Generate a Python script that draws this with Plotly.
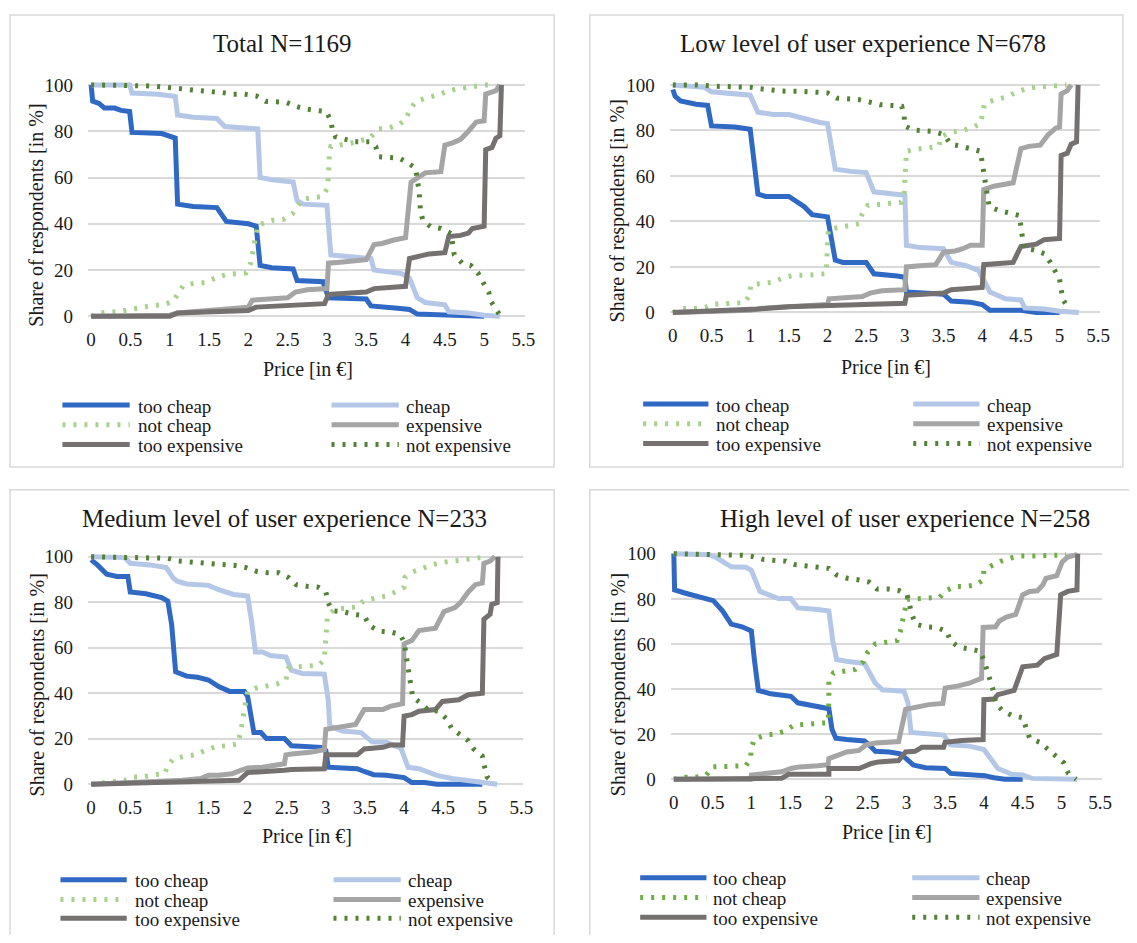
import plotly.graph_objects as go

# page geometry (the page body adds an 8 px margin around the figure)
OFF = 8
FW, FH = 1121, 927
FONT = "Liberation Serif, serif"
TXT = "#1a1a1a"

SERIES = ["too cheap", "cheap", "not cheap", "expensive", "too expensive", "not expensive"]
X_TICKS = [0, 0.5, 1, 1.5, 2, 2.5, 3, 3.5, 4, 4.5, 5, 5.5]
X_TICK_TEXT = ["0", "0.5", "1", "1.5", "2", "2.5", "3", "3.5", "4", "4.5", "5", "5.5"]
Y_TICKS = [0, 20, 40, 60, 80, 100]
Y_TICK_TEXT = ["0", "20", "40", "60", "80", "100"]
TITLES = ["Total N=1169", "Low level of user experience N=678",
          "Medium level of user experience N=233", "High level of user experience N=258"]
X_TITLE = "Price [in €]"
Y_TITLE = "Share of respondents [in %]"

# ---------------- Total N=1169 ----------------
total_too_cheap_x = [0, 0.02, 0.1, 0.17, 0.3, 0.38, 0.49, 0.52, 0.9, 1.07, 1.1, 1.3, 1.6, 1.72, 2.0, 2.1, 2.15, 2.3, 2.57, 2.62, 2.95, 3.02, 3.5, 3.56, 3.9, 4.05, 4.15, 4.6, 5.0]
total_too_cheap_y = [100, 93, 92, 90, 90, 89, 88.5, 79.5, 79, 77, 48.5, 47.5, 47, 41, 40, 39, 22, 21, 20.5, 15.5, 15, 8, 7.5, 4.5, 3.5, 3, 1, 0.5, 0]
total_cheap_x = [0, 0.49, 0.52, 0.85, 1.07, 1.1, 1.3, 1.6, 1.7, 2.0, 2.12, 2.15, 2.3, 2.57, 2.62, 2.7, 3.0, 3.05, 3.3, 3.56, 3.6, 3.75, 3.95, 4.05, 4.15, 4.25, 4.5, 4.55, 4.8, 5.0, 5.2]
total_cheap_y = [100, 100, 96.5, 96, 95, 87, 86, 85.5, 82, 81.5, 81, 60, 59, 58, 50, 48.5, 48, 26.5, 26, 25, 20, 19.5, 18.5, 16.5, 8, 6, 5, 2, 1.5, 0.5, 0]
total_not_cheap_x = [0, 0.13, 0.36, 0.49, 0.64, 0.78, 0.93, 1.04, 1.17, 1.31, 1.46, 1.57, 1.72, 1.97, 2.03, 2.1, 2.12, 2.31, 2.44, 2.56, 2.69, 2.94, 3.0, 3.02, 3.03, 3.05, 3.16, 3.3, 3.54, 3.66, 3.79, 3.92, 4.0, 4.06, 4.13, 4.28, 4.43, 4.55, 4.68, 4.81, 4.98, 5.15]
total_not_cheap_y = [0, 1.6, 2.1, 3, 3.8, 4.7, 5.1, 6.4, 13.2, 14.3, 14.6, 16.4, 18.1, 18.8, 23, 36, 39.4, 41.5, 41.8, 44.3, 50.7, 51.8, 55, 61, 70, 73.4, 74, 74.8, 76.9, 81, 81.4, 82.9, 85.1, 89.5, 92.8, 94.6, 95.8, 97.5, 98.4, 99.1, 99.9, 100]
total_expensive_x = [0, 1.0, 1.1, 1.5, 1.7, 2.0, 2.05, 2.3, 2.5, 2.6, 2.75, 3.0, 3.02, 3.2, 3.5, 3.6, 3.7, 3.85, 4.0, 4.07, 4.15, 4.25, 4.45, 4.5, 4.6, 4.7, 4.8, 4.85, 4.9, 5.0, 5.02, 5.15, 5.2]
total_expensive_y = [0, 0.5, 1.5, 2.5, 3.5, 4, 7, 7.5, 8, 10.5, 11.5, 12, 23, 23.5, 24.5, 31, 31.5, 33, 34, 58, 60, 62, 62.5, 74, 75, 76.5, 80, 82, 84, 84.5, 96, 97.5, 100]
total_too_expensive_x = [0, 1.0, 1.1, 1.5, 1.7, 2.0, 2.1, 2.5, 2.6, 2.97, 3.02, 3.2, 3.5, 3.6, 3.85, 4.0, 4.05, 4.15, 4.3, 4.5, 4.55, 4.7, 4.8, 4.85, 5.0, 5.02, 5.1, 5.15, 5.2, 5.22]
total_too_expensive_y = [0, 0, 1.5, 2, 2.5, 2.5, 4, 4.5, 5, 5.5, 9.5, 10, 10.5, 12, 12.5, 13, 25, 26, 27, 27.5, 34.5, 35, 36, 38, 39, 72, 73, 77, 78, 100]
total_not_expensive_x = [0, 0.6, 0.7, 0.85, 0.97, 1.12, 1.25, 1.4, 1.55, 1.67, 1.8, 1.95, 2.1, 2.22, 2.35, 2.48, 2.6, 2.71, 2.86, 2.99, 3.05, 3.07, 3.11, 3.24, 3.35, 3.54, 3.62, 3.66, 3.79, 3.92, 4.03, 4.13, 4.15, 4.17, 4.19, 4.22, 4.32, 4.45, 4.58, 4.6, 4.62, 4.72, 4.83, 4.92, 4.98, 5.06, 5.08, 5.2]
total_not_expensive_y = [100, 100, 99.6, 99.3, 98.9, 97.9, 97.5, 97, 97, 96.7, 96, 96, 95.3, 92.9, 92.5, 92.5, 90.8, 89.7, 89, 88.5, 84.7, 80.5, 77.6, 76.2, 75.5, 75.5, 73.4, 69, 68.7, 68.4, 66.3, 64, 58.5, 55, 45.8, 41.5, 38.7, 38, 35.8, 30.9, 26.6, 23, 22, 18.8, 15.3, 10.3, 6.8, 0.5]

# ---------------- Low level N=678 ----------------
low_too_cheap_x = [0, 0.03, 0.1, 0.2, 0.3, 0.45, 0.5, 0.8, 1.0, 1.1, 1.2, 1.5, 1.7, 1.8, 2.0, 2.1, 2.2, 2.5, 2.6, 2.9, 3.0, 3.02, 3.3, 3.5, 3.6, 3.85, 4.0, 4.1, 4.5, 4.7, 5.0]
low_too_cheap_y = [98, 95, 93, 92, 91.5, 91, 82, 81.5, 80.5, 52, 51, 51, 46.5, 43, 42, 23, 22, 22, 17, 16, 15.5, 9, 8.5, 8, 5, 4.5, 3.5, 1, 1, 0, 0]
low_cheap_x = [0, 0.4, 0.5, 0.9, 1.0, 1.1, 1.3, 1.5, 1.75, 1.9, 2.0, 2.1, 2.3, 2.5, 2.6, 2.8, 3.0, 3.02, 3.2, 3.5, 3.6, 3.8, 3.95, 4.1, 4.3, 4.5, 4.55, 4.8, 5.0, 5.25]
low_cheap_y = [100, 99, 97, 96, 95.5, 88, 87, 87, 84.5, 83.5, 83, 63, 62, 61.5, 53, 52.5, 51.5, 29.5, 28.5, 28, 22, 20.5, 18.5, 9, 6, 5.5, 2, 1.5, 0.5, 0]
low_not_cheap_x = [0, 0.12, 0.25, 0.42, 0.51, 0.65, 0.79, 0.93, 0.99, 1.01, 1.15, 1.3, 1.42, 1.56, 1.7, 1.85, 1.98, 1.99, 2.0, 2.01, 2.13, 2.27, 2.41, 2.45, 2.52, 2.66, 2.8, 2.95, 2.99, 3.0, 3.02, 3.16, 3.3, 3.44, 3.47, 3.59, 3.73, 3.87, 3.98, 4.0, 4.03, 4.17, 4.31, 4.42, 4.56, 4.7, 4.84, 4.98, 5.09]
low_not_cheap_y = [0, 1.7, 1.7, 2.2, 3.6, 3.9, 4, 4.3, 7.5, 12.3, 12.7, 13.3, 15.2, 16.3, 16.3, 16.6, 17, 21.9, 31.8, 36.4, 37.3, 38.3, 39, 43.4, 47, 47.4, 48, 48.4, 52, 62, 70.8, 71.8, 72.3, 73, 77.3, 79.2, 79.8, 81.2, 83.1, 88.2, 91.8, 93.5, 94.7, 96.5, 98.3, 99, 99.4, 99.7, 100]
low_expensive_x = [0, 0.5, 1.0, 1.2, 1.5, 1.8, 2.0, 2.02, 2.3, 2.45, 2.55, 2.7, 3.0, 3.02, 3.2, 3.4, 3.5, 3.65, 3.75, 3.85, 4.0, 4.02, 4.15, 4.3, 4.4, 4.5, 4.6, 4.75, 4.85, 4.95, 5.0, 5.02, 5.1, 5.15]
low_expensive_y = [0, 0.5, 1, 2, 2.5, 3, 3.5, 6, 6.5, 7, 8.5, 9.5, 10, 20, 20.5, 21, 26.5, 27, 28, 29.5, 29.5, 54, 55.5, 56.5, 57, 72, 73, 73.5, 78, 81, 81.5, 96, 97.5, 100]
low_too_expensive_x = [0, 0.5, 1.0, 1.1, 1.5, 2.0, 2.05, 2.5, 2.6, 3.0, 3.02, 3.3, 3.5, 3.6, 3.85, 4.0, 4.02, 4.2, 4.4, 4.5, 4.7, 4.8, 5.0, 5.02, 5.1, 5.15, 5.22, 5.24]
low_too_expensive_y = [0, 0.5, 1, 1.5, 2.5, 3, 3.5, 3.5, 4, 4, 7.5, 8, 8.5, 10, 10.5, 11, 21, 21.5, 22, 29, 30, 32, 32.5, 69, 70, 74, 75, 100]
low_not_expensive_x = [0, 0.3, 0.56, 0.83, 1.0, 1.13, 1.27, 1.41, 1.7, 1.85, 2.0, 2.12, 2.25, 2.4, 2.54, 2.68, 2.82, 2.96, 2.99, 3.0, 3.1, 3.24, 3.38, 3.51, 3.59, 3.73, 3.85, 3.98, 4.0, 4.02, 4.06, 4.09, 4.22, 4.35, 4.48, 4.5, 4.52, 4.54, 4.67, 4.81, 4.88, 4.94, 5.0, 5.02, 5.05, 5.12]
low_not_expensive_y = [100, 100, 99.4, 99.3, 99, 98.3, 97.6, 97.3, 97.1, 96.8, 96.5, 94.2, 93.9, 93.6, 92.5, 91.3, 91, 90.6, 86.7, 82.1, 80.2, 79.8, 79.5, 78, 74, 73, 72, 70.8, 65.8, 60.7, 51.4, 46.5, 44.8, 43.6, 42.6, 37.9, 33.2, 28.2, 27.5, 25.7, 22, 18.8, 14.7, 10.1, 5.3, 1.7]

# ---------------- Medium level N=233 ----------------
med_too_cheap_x = [0, 0.08, 0.2, 0.33, 0.47, 0.5, 0.7, 0.9, 0.98, 1.03, 1.08, 1.22, 1.36, 1.5, 1.63, 1.77, 1.96, 2.0, 2.08, 2.17, 2.24, 2.47, 2.56, 2.94, 3.0, 3.03, 3.21, 3.4, 3.49, 3.61, 3.77, 3.91, 4.0, 4.1, 4.26, 4.42, 5.0]
med_too_cheap_y = [98.6, 96.4, 92.3, 91.3, 91.3, 84.5, 83.7, 82, 80.5, 70, 49.4, 47.5, 47, 45.8, 42.9, 40.8, 40.8, 38.6, 22.7, 22.7, 20.1, 20.1, 16.9, 16.2, 14.7, 7.5, 7.1, 6.8, 5.6, 4.2, 3.9, 3.2, 2.9, 0.7, 0.7, 0, 0]
med_cheap_x = [0, 0.43, 0.5, 0.75, 0.96, 1.05, 1.1, 1.22, 1.5, 1.63, 1.82, 2.0, 2.05, 2.1, 2.19, 2.29, 2.49, 2.56, 2.7, 2.98, 3.03, 3.05, 3.21, 3.45, 3.59, 3.77, 3.96, 4.05, 4.19, 4.42, 4.61, 4.89, 5.19]
med_cheap_y = [100, 99.6, 97.1, 96.4, 95.2, 90.6, 89.2, 88, 87.4, 85.5, 83.4, 82.7, 71.8, 58.1, 58.1, 56.6, 55.9, 50.1, 48.7, 48.4, 37.1, 25.6, 23.4, 22.7, 18.6, 18.4, 15.8, 7.5, 6.8, 3.9, 2.5, 1.3, 0]
med_not_cheap_x = [0, 0.15, 0.29, 0.43, 0.52, 0.66, 0.8, 0.94, 0.98, 1.05, 1.19, 1.33, 1.45, 1.59, 1.73, 1.87, 1.91, 1.95, 1.98, 2.0, 2.1, 2.24, 2.38, 2.49, 2.52, 2.63, 2.77, 2.91, 2.98, 3.0, 3.02, 3.11, 3.25, 3.39, 3.49, 3.63, 3.77, 3.89, 4.0, 4.01, 4.1, 4.24, 4.35, 4.49, 4.63, 4.77, 4.91, 5.07]
med_not_cheap_y = [0, 0.7, 1, 1.7, 3.2, 3.2, 4.2, 4.6, 8.2, 11.1, 12.3, 12.9, 14.7, 16.5, 16.9, 17.6, 22.7, 30.6, 37.1, 40.8, 42.2, 43.2, 44.1, 45.8, 50.9, 51.6, 51.9, 52.3, 54.8, 64.6, 74, 76.9, 77.6, 77.9, 80.8, 81.9, 82.7, 84.5, 86.6, 90.9, 93.2, 94.9, 96.4, 97.5, 98.1, 99, 99.6, 100]
med_expensive_x = [0, 0.98, 1.17, 1.4, 1.5, 1.63, 1.8, 1.91, 2.0, 2.19, 2.38, 2.47, 2.49, 2.56, 2.8, 2.98, 3.0, 3.19, 3.38, 3.49, 3.73, 3.82, 3.98, 4.0, 4.1, 4.19, 4.4, 4.51, 4.65, 4.72, 4.82, 4.91, 5.0, 5.02, 5.1, 5.16]
med_expensive_y = [0, 1, 1.7, 2.5, 3.9, 3.9, 4.6, 6.1, 7.1, 7.5, 8.2, 9, 12.9, 13.3, 14, 15.2, 24.1, 25.3, 26.3, 32.8, 32.8, 34.2, 35.4, 61.7, 63.2, 67.5, 68.6, 75.9, 77.6, 79.8, 84.5, 87.7, 88.4, 97.1, 98.1, 100]
med_too_expensive_x = [0, 0.98, 1.17, 1.63, 1.89, 2.0, 2.19, 2.47, 2.56, 2.98, 3.0, 3.4, 3.49, 3.73, 3.82, 3.98, 4.0, 4.1, 4.19, 4.4, 4.49, 4.7, 4.82, 5.0, 5.02, 5.1, 5.12, 5.19, 5.2]
med_too_expensive_y = [0, 0.7, 1.3, 1.7, 1.7, 5.1, 5.3, 6.1, 6.5, 6.8, 12.9, 12.9, 15.5, 16.2, 17.2, 17.2, 29.9, 30.6, 32.1, 32.8, 36.4, 37.1, 39.3, 40, 72.5, 74.7, 79, 79.8, 100]
med_not_expensive_x = [0, 0.85, 0.98, 1.12, 1.26, 1.4, 1.54, 1.69, 1.84, 1.98, 2.12, 2.26, 2.4, 2.52, 2.62, 2.76, 2.9, 3.0, 3.03, 3.08, 3.21, 3.35, 3.49, 3.56, 3.68, 3.82, 3.95, 4.0, 4.04, 4.06, 4.09, 4.11, 4.21, 4.31, 4.44, 4.54, 4.61, 4.71, 4.82, 4.89, 5.0, 5.03, 5.06, 5.16]
med_not_expensive_y = [100, 99.3, 99.3, 98.1, 97.8, 97.5, 97.1, 96.7, 96.1, 95.2, 93.5, 92.9, 92.9, 90.9, 87.7, 87, 86.6, 84.5, 79.8, 76.2, 75.9, 74.7, 74, 69.7, 67.2, 67, 65.8, 62.4, 52.3, 47.5, 42.9, 38.3, 35.7, 32.5, 32.1, 28.8, 24.4, 22, 19.1, 15.5, 12.3, 7.5, 3.2, 0.3]

# ---------------- High level N=258 ----------------
high_too_cheap_x = [0, 0.01, 0.14, 0.28, 0.39, 0.51, 0.63, 0.74, 0.88, 1.0, 1.04, 1.09, 1.25, 1.39, 1.51, 1.6, 1.81, 1.9, 2.0, 2.04, 2.09, 2.23, 2.46, 2.55, 2.6, 2.78, 2.92, 2.99, 3.09, 3.25, 3.5, 3.57, 3.9, 4.01, 4.13, 4.27, 4.5]
high_too_cheap_y = [100, 84, 82.6, 81.1, 80.1, 79.2, 74.6, 68.8, 67.6, 65.8, 52.8, 39.4, 37.9, 37.1, 36.8, 33.9, 32.7, 31.7, 31.3, 22.2, 18.2, 17.6, 17, 14.2, 12.4, 12.1, 11.3, 9.4, 6.3, 5.1, 4.8, 2.6, 2.2, 1.6, 0.7, 0, 0]
high_cheap_x = [0, 0.46, 0.56, 0.74, 0.93, 1.0, 1.11, 1.25, 1.35, 1.51, 1.6, 1.86, 2.0, 2.05, 2.1, 2.23, 2.46, 2.6, 2.69, 2.97, 3.02, 3.06, 3.25, 3.48, 3.57, 3.81, 4.0, 4.08, 4.18, 4.36, 4.5, 4.62, 5.01, 5.2]
high_cheap_y = [100, 99.6, 98.1, 94.2, 94, 92.7, 83.3, 81.1, 80.1, 80.1, 76, 75.3, 74.6, 61.5, 53.1, 52.3, 51.3, 42.6, 39.7, 39, 33.9, 20.8, 20.1, 19.6, 15.3, 14.7, 13.2, 9.2, 4.8, 2.2, 1.9, 0.4, 0.1, 0]
high_not_cheap_x = [0, 0.14, 0.28, 0.42, 0.5, 0.65, 0.79, 0.93, 0.99, 1.0, 1.04, 1.18, 1.32, 1.44, 1.55, 1.69, 1.83, 1.99, 2.0, 2.0, 2.06, 2.2, 2.34, 2.44, 2.5, 2.6, 2.74, 2.88, 2.92, 2.95, 2.99, 3.01, 3.16, 3.3, 3.43, 3.5, 3.62, 3.76, 3.9, 3.99, 4.0, 4.11, 4.22, 4.35, 4.48, 4.62, 4.78, 4.92, 5.06]
high_not_cheap_y = [0, 0.9, 0.9, 1.9, 5.5, 5.5, 5.5, 6, 9.2, 13.8, 17.9, 19.6, 20.1, 21.5, 24, 24.4, 24.7, 25.1, 34.6, 44, 47.2, 48.1, 48.7, 52, 56.3, 60, 60.8, 61.5, 65.4, 70.2, 75.3, 79.7, 80.1, 80.4, 80.7, 83.3, 85.5, 85.5, 86.2, 88.4, 92.7, 94.9, 96.7, 98.1, 99, 99, 99, 99.3, 99.6]
high_expensive_x = [0, 0.99, 1.0, 1.21, 1.39, 1.51, 1.62, 1.86, 1.99, 2.0, 2.13, 2.23, 2.39, 2.48, 2.6, 2.78, 2.9, 2.99, 3.16, 3.29, 3.47, 3.5, 3.67, 3.81, 3.97, 3.99, 4.15, 4.2, 4.29, 4.41, 4.5, 4.59, 4.69, 4.76, 4.8, 4.94, 5.01, 5.08, 5.2, 5.21]
high_expensive_y = [0, 0, 1.9, 2.6, 3.3, 4.8, 5.5, 6, 6.5, 9.2, 10.6, 12.1, 12.8, 15.3, 16.1, 16.4, 16.7, 31, 32.1, 33.1, 33.6, 40.4, 41.4, 42.6, 44.8, 67.3, 67.6, 70.2, 71.9, 73.1, 81.8, 83.3, 83.6, 86.2, 89.1, 90.3, 96.4, 98.5, 99.6, 100]
high_too_expensive_x = [0, 1.0, 1.39, 1.48, 2.0, 2.0, 2.39, 2.55, 2.64, 2.9, 2.99, 3.11, 3.2, 3.48, 3.5, 3.71, 3.99, 4.0, 4.13, 4.18, 4.39, 4.5, 4.69, 4.78, 4.94, 4.99, 5.08, 5.2, 5.21]
high_too_expensive_y = [0, 0.4, 0.4, 2.2, 2.2, 4.8, 4.8, 7, 7.7, 8.3, 12.1, 12.4, 14.2, 14.2, 16.4, 17.2, 17.6, 35.3, 35.6, 37.5, 39.4, 49.9, 50.6, 53.5, 55.4, 81.8, 83.3, 84, 100]
high_not_expensive_x = [0, 0.7, 0.88, 1.01, 1.15, 1.29, 1.44, 1.56, 1.71, 1.86, 2.0, 2.1, 2.24, 2.39, 2.52, 2.62, 2.76, 2.91, 3.01, 3.04, 3.07, 3.12, 3.25, 3.39, 3.52, 3.57, 3.68, 3.81, 3.95, 4.0, 4.05, 4.09, 4.13, 4.15, 4.25, 4.36, 4.5, 4.55, 4.59, 4.72, 4.83, 4.93, 5.03, 5.09, 5.19]
high_not_expensive_y = [100, 99.6, 99.3, 98.8, 97.5, 97.1, 96.7, 95.2, 94.6, 94.2, 93.5, 90.6, 89.1, 88.4, 87.4, 84.4, 84.4, 83.6, 81.8, 77.5, 73.1, 68.8, 67.6, 67.3, 65.6, 61.2, 58.6, 57.8, 56.8, 52.8, 48.1, 42.9, 38.2, 33.6, 30.2, 28.3, 27.3, 23, 18.2, 16.4, 13.2, 10.2, 7.3, 2.6, 0]

PANEL_SERIES = [
    [(total_too_cheap_x, total_too_cheap_y), (total_cheap_x, total_cheap_y),
     (total_not_cheap_x, total_not_cheap_y), (total_expensive_x, total_expensive_y),
     (total_too_expensive_x, total_too_expensive_y), (total_not_expensive_x, total_not_expensive_y)],
    [(low_too_cheap_x, low_too_cheap_y), (low_cheap_x, low_cheap_y),
     (low_not_cheap_x, low_not_cheap_y), (low_expensive_x, low_expensive_y),
     (low_too_expensive_x, low_too_expensive_y), (low_not_expensive_x, low_not_expensive_y)],
    [(med_too_cheap_x, med_too_cheap_y), (med_cheap_x, med_cheap_y),
     (med_not_cheap_x, med_not_cheap_y), (med_expensive_x, med_expensive_y),
     (med_too_expensive_x, med_too_expensive_y), (med_not_expensive_x, med_not_expensive_y)],
    [(high_too_cheap_x, high_too_cheap_y), (high_cheap_x, high_cheap_y),
     (high_not_cheap_x, high_not_cheap_y), (high_expensive_x, high_expensive_y),
     (high_too_expensive_x, high_too_expensive_y), (high_not_expensive_x, high_not_expensive_y)],
]

# ---------------- styles ----------------
DOTS = "3px,8px"
STYLE = {
    "too cheap": ("#2F69C4", "solid"),
    "cheap": ("#B4C7E7", "solid"),
    "not cheap": ("#A9D18E", DOTS),
    "expensive": ("#A5A5A5", "solid"),
    "too expensive": ("#767171", "solid"),
    "not expensive": ("#538135", DOTS),
}
HIGH_NOT_CHEAP = "#70AD47"
LW = 5

# geometry of each panel in window pixels
GEOM = [
    dict(x0=90, x55=527, y0=314, y100=79, box=(8, 8, 558, 467), title=(283, 37),
         xt=(309, 367), yt=(35, 211), rows=(404, 424, 444), lcol=(61, 129, 135), rcol=(333, 401, 406)),
    dict(x0=678, x55=1108, y0=310, y100=79, box=(594, 8, 1133, 467), title=(870, 37),
         xt=(893, 365), yt=(623, 207), rows=(403, 423, 443), lcol=(648, 714, 720), rcol=(921, 988, 994)),
    dict(x0=90, x55=525, y0=789, y100=558, box=(8, 490, 558, 960), title=(285, 519),
         xt=(308, 842), yt=(36, 688), rows=(886, 906, 925), lcol=(59, 126, 132), rcol=(335, 403, 408)),
    dict(x0=679, x55=1110, y0=784, y100=555, box=(594, 490, 1150, 960), title=(913, 519),
         xt=(894, 838), yt=(623, 688), rows=(884, 904, 924), lcol=(645, 712, 717), rcol=(920, 988, 993)),
]
XR = (-0.04, 5.52)
YR = (-1.6, 101.6)

fig = go.Figure()
shapes = []
annotations = []


def fx(px):
    return (px - OFF) / FW


def fy(py):
    return 1 - (py - OFF) / FH


LEFT_COL = ["too cheap", "not cheap", "too expensive"]
RIGHT_COL = ["cheap", "expensive", "not expensive"]

for i, g in enumerate(GEOM):
    k = i + 1
    sx = (g["x55"] - g["x0"]) / 5.5
    sy = (g["y0"] - g["y100"]) / 100.0
    xd = [fx(g["x0"] + XR[0] * sx), fx(g["x0"] + XR[1] * sx)]
    yd = [fy(g["y0"] - YR[0] * sy), fy(g["y0"] - YR[1] * sy)]
    xname = "xaxis" if k == 1 else f"xaxis{k}"
    yname = "yaxis" if k == 1 else f"yaxis{k}"
    xref = "x" if k == 1 else f"x{k}"
    yref = "y" if k == 1 else f"y{k}"
    fig.update_layout(**{
        xname: dict(domain=xd, range=list(XR), anchor=yref, showgrid=False, zeroline=False,
                    showline=False, ticks="", tickmode="array", tickvals=X_TICKS,
                    ticktext=X_TICK_TEXT, ticklabelstandoff=6,
                    tickfont=dict(family=FONT, size=19, color=TXT), fixedrange=True),
        yname: dict(domain=yd, range=list(YR), anchor=xref, showgrid=True, gridcolor="#D9D9D9",
                    gridwidth=1.5, zeroline=False, showline=False, ticks="", tickmode="array",
                    tickvals=Y_TICKS, ticktext=Y_TICK_TEXT, ticklabelstandoff=14,
                    tickfont=dict(family=FONT, size=19, color=TXT), fixedrange=True),
    })
    for name, (xs, ys) in zip(SERIES, PANEL_SERIES[i]):
        color, dash = STYLE[name]
        if k == 4 and name == "not cheap":
            color = HIGH_NOT_CHEAP
        fig.add_trace(go.Scatter(x=xs, y=ys, mode="lines", name=name, showlegend=False,
                                 xaxis=xref, yaxis=yref, hoverinfo="skip",
                                 line=dict(color=color, width=LW, dash=dash)))
    # panel frame
    bx0, by0, bx1, by1 = g["box"]
    shapes.append(dict(type="rect", xref="paper", yref="paper", x0=fx(bx0), x1=fx(bx1),
                       y0=fy(by1), y1=fy(by0), line=dict(color="#D9D9D9", width=1.5),
                       fillcolor="rgba(0,0,0,0)", layer="below"))
    # titles
    annotations.append(dict(text=TITLES[i], x=fx(g["title"][0]), y=fy(g["title"][1]),
                            xref="paper", yref="paper", showarrow=False, xanchor="center",
                            yanchor="middle", font=dict(family=FONT, size=25, color=TXT)))
    annotations.append(dict(text=X_TITLE, x=fx(g["xt"][0]), y=fy(g["xt"][1]), xref="paper",
                            yref="paper", showarrow=False, xanchor="center", yanchor="middle",
                            font=dict(family=FONT, size=20, color=TXT)))
    annotations.append(dict(text=Y_TITLE, x=fx(g["yt"][0]), y=fy(g["yt"][1]), xref="paper",
                            yref="paper", showarrow=False, xanchor="center", yanchor="middle",
                            textangle=-90, font=dict(family=FONT, size=20, color=TXT)))
    # legend (two columns, three rows)
    for col, names in ((g["lcol"], LEFT_COL), (g["rcol"], RIGHT_COL)):
        for row_y, name in zip(g["rows"], names):
            color, dash = STYLE[name]
            if k == 4 and name == "not cheap":
                color = HIGH_NOT_CHEAP
            shapes.append(dict(type="line", xref="paper", yref="paper", x0=fx(col[0]),
                               x1=fx(col[1]), y0=fy(row_y), y1=fy(row_y),
                               line=dict(color=color, width=5, dash=dash)))
            annotations.append(dict(text=name, x=fx(col[2]), y=fy(row_y + 1), xref="paper",
                                    yref="paper", showarrow=False, xanchor="left",
                                    yanchor="middle", font=dict(family=FONT, size=19, color=TXT)))

fig.update_layout(width=FW, height=FH, margin=dict(l=0, r=0, t=0, b=0), showlegend=False,
                  paper_bgcolor="white", plot_bgcolor="white", shapes=shapes,
                  annotations=annotations, font=dict(family=FONT, color=TXT))

fig.write_html("out.html")
